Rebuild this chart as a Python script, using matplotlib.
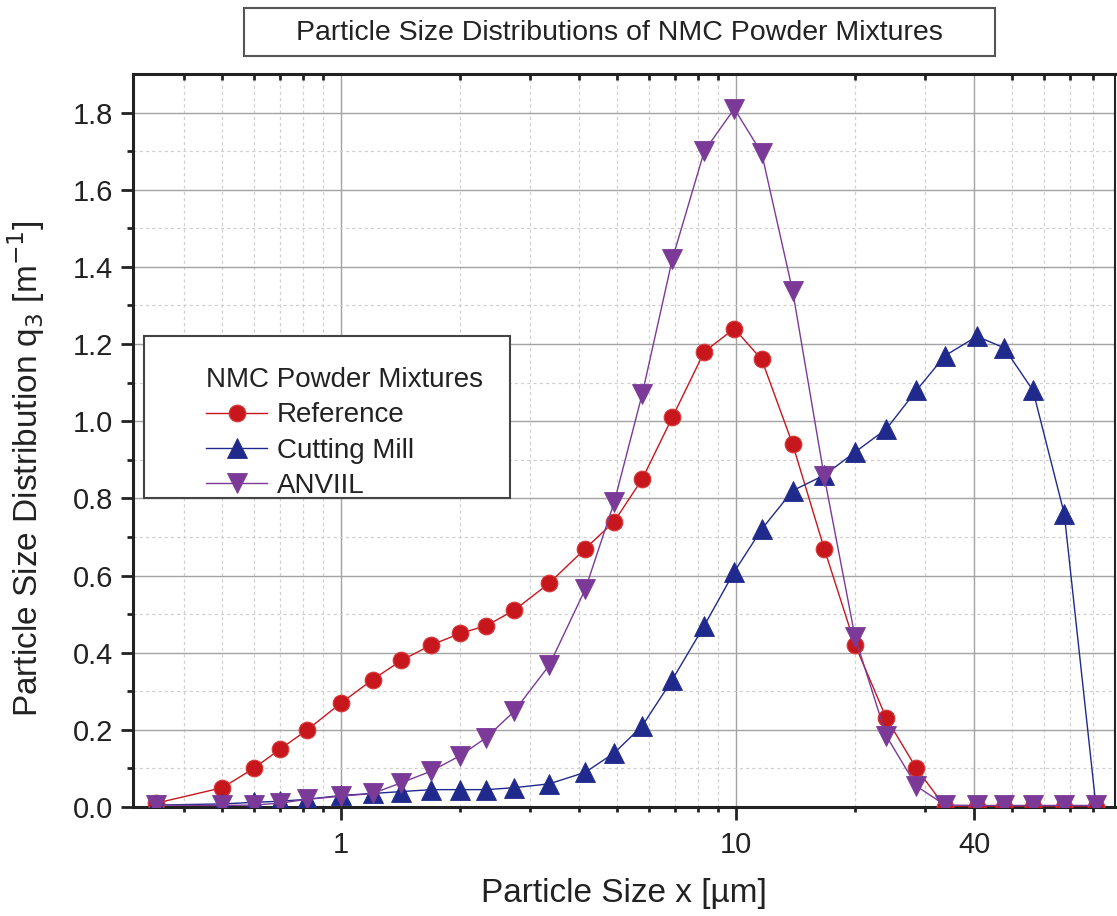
import matplotlib
matplotlib.use("Agg")
import matplotlib.pyplot as plt
from matplotlib.patches import Rectangle
from matplotlib.ticker import FixedLocator, NullFormatter, NullLocator

plt.rcParams.update({
    "font.family": ["Liberation Sans", "DejaVu Sans"],
    "font.size": 20,
    "text.color": "#222222",
    "axes.labelcolor": "#222222",
    "xtick.color": "#222222",
    "ytick.color": "#222222",
})

# ── data ──────────────────────────────────────────────────────────────────
size_um = [0.34, 0.50, 0.60, 0.70, 0.82, 1.00, 1.20, 1.42, 1.69, 2.00,
           2.33, 2.74, 3.36, 4.15, 4.91, 5.78, 6.89, 8.30, 9.89, 11.6,
           13.9, 16.7, 20.0, 24.0, 28.6, 33.8, 40.7, 47.7, 56.4, 67.7, 81.5]

q3_reference = [0.01, 0.05, 0.10, 0.15, 0.20, 0.27, 0.33, 0.38, 0.42, 0.45,
                0.47, 0.51, 0.58, 0.67, 0.74, 0.85, 1.01, 1.18, 1.24, 1.16,
                0.94, 0.67, 0.42, 0.23, 0.10, 0.0, 0.0, 0.0, 0.0, 0.0, 0.0]

q3_cutting_mill = [0.005, 0.008, 0.012, 0.015, 0.02, 0.03, 0.035, 0.04, 0.045, 0.045,
                   0.045, 0.05, 0.06, 0.09, 0.14, 0.21, 0.33, 0.47, 0.61, 0.72,
                   0.82, 0.86, 0.92, 0.98, 1.08, 1.17, 1.22, 1.19, 1.08, 0.76, 0.0]

q3_anviil = [0.005, 0.004, 0.005, 0.01, 0.02, 0.028, 0.035, 0.063, 0.093, 0.133,
             0.18, 0.248, 0.367, 0.565, 0.79, 1.07, 1.42, 1.70, 1.81, 1.695,
             1.337, 0.857, 0.44, 0.184, 0.054, 0.005, 0.004, 0.004, 0.004, 0.004, 0.004]

x_major = [1, 10, 40]
x_major_labels = ["1", "10", "40"]
x_minor = [0.4, 0.5, 0.6, 0.7, 0.8, 0.9, 2, 3, 4, 5, 6, 7, 8, 9, 20, 30, 50, 60, 70, 80]
y_major = [0.0, 0.2, 0.4, 0.6, 0.8, 1.0, 1.2, 1.4, 1.6, 1.8]
y_minor = [0.1, 0.3, 0.5, 0.7, 0.9, 1.1, 1.3, 1.5, 1.7]

RED = "#c8161d"
BLUE = "#1f2a8c"
PURPLE = "#7b3a98"

# ── figure ────────────────────────────────────────────────────────────────
fig = plt.figure(figsize=(11.17, 9.16), dpi=100)
ax = fig.add_axes([0.1191, 0.1190, 0.8791, 0.8002])

ax.plot(size_um, q3_reference, color=RED, lw=1.0, marker="o", ms=12,
        mfc=RED, mec="#d83a3a", mew=0.8, label="Reference", zorder=3)
ax.plot(size_um, q3_cutting_mill, color=BLUE, lw=1.0, marker="^", ms=14,
        mfc=BLUE, mec=BLUE, mew=0.6, label="Cutting Mill", zorder=3)
ax.plot(size_um, q3_anviil, color=PURPLE, lw=1.0, marker="v", ms=14,
        mfc=PURPLE, mec=PURPLE, mew=0.6, label="ANVIIL", zorder=3)

ax.set_xscale("log")
ax.set_xlim(0.297, 91)
ax.set_ylim(0, 1.9)

ax.xaxis.set_major_locator(FixedLocator(x_major))
ax.set_xticklabels(x_major_labels)
ax.xaxis.set_minor_locator(FixedLocator(x_minor))
ax.xaxis.set_minor_formatter(NullFormatter())
ax.set_yticks(y_major)
ax.set_yticklabels([f"{v:.1f}" for v in y_major])
ax.set_yticks(y_minor, minor=True)

ax.tick_params(axis="x", which="major", direction="out", length=9, width=2, pad=8, labelsize=21)
ax.tick_params(axis="x", which="minor", direction="out", length=3.8, width=2)
ax.tick_params(axis="y", which="major", direction="out", length=8.6, width=2, pad=6, labelsize=21)
ax.tick_params(axis="y", which="minor", direction="out", length=4.3, width=2)
ax.tick_params(axis="y", which="both", right=False)

# ── grid ──────────────────────────────────────────────────────────────────
ax.set_axisbelow(True)
ax.grid(which="major", color="#a3a3a3", lw=1.0, ls="-")
ax.grid(which="minor", color="#d0d0d0", lw=0.9, ls=(0, (2.5, 2.5)))

for side in ("left", "bottom", "top"):
    ax.spines[side].set_linewidth(2.2)
ax.spines["right"].set_linewidth(1.5)
for sp in ax.spines.values():
    sp.set_color("#222222")

# inward minor ticks along the top edge
ax_top = ax.twiny()
ax_top.set_xscale("log")
ax_top.set_xlim(ax.get_xlim())
ax_top.xaxis.set_major_locator(NullLocator())
ax_top.xaxis.set_minor_locator(FixedLocator(x_minor))
ax_top.xaxis.set_minor_formatter(NullFormatter())
ax_top.tick_params(axis="x", which="minor", direction="in", length=4.3, width=2)
for sp in ax_top.spines.values():
    sp.set_visible(False)

# ── labels ────────────────────────────────────────────────────────────────
ax.set_xlabel("Particle Size x [µm]", fontsize=24)
ax.xaxis.set_label_coords(0.5, -0.097)
ax.set_ylabel("Particle Size Distribution q$_3$ [m$^{-1}$]", fontsize=24)
ax.yaxis.set_label_coords(-0.088, 0.462)

# ── legend with its own frame ─────────────────────────────────────────────
ax.add_patch(Rectangle((0.0112, 0.4216), 0.3727, 0.2210, transform=ax.transAxes,
                       facecolor="white", edgecolor="#444444", lw=1.5, zorder=4))
leg = ax.legend(title="NMC Powder Mixtures", loc="upper left",
                bbox_to_anchor=(0.0743, 0.600), frameon=False, fontsize=20,
                title_fontsize=20, alignment="left", handlelength=2.2,
                handletextpad=0.36, labelspacing=0.33, borderpad=0,
                borderaxespad=0)
leg.set_zorder(5)

# ── boxed title ───────────────────────────────────────────────────────────
fig.patches.append(Rectangle((244 / 1117, 1 - 56 / 916), 751 / 1117, 48 / 916,
                             transform=fig.transFigure, fill=False,
                             edgecolor="#555555", lw=1.5))
fig.text(619.5 / 1117, 1 - 33.5 / 916, "Particle Size Distributions of NMC Powder Mixtures",
         ha="center", va="center", fontsize=20.5)

fig.savefig("out.png", dpi=100)
